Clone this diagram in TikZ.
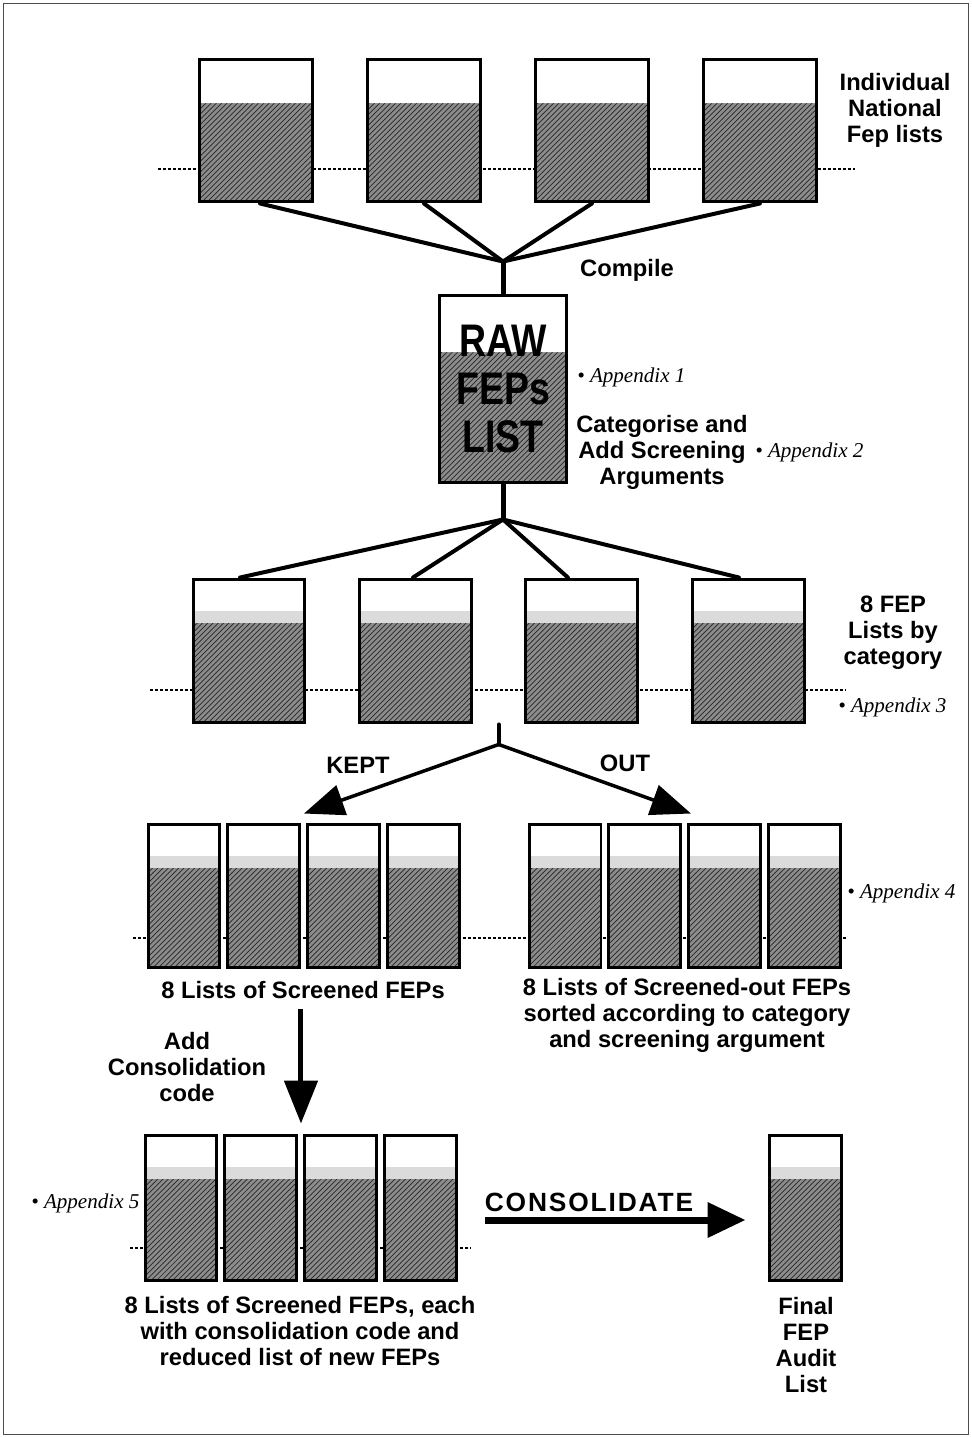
\documentclass[tikz,border=0pt]{standalone}
\usepackage{fontspec}
\setmainfont{Liberation Sans}
\newfontfamily\apxfont{Liberation Serif}
\newfontfamily\rawfont[FakeStretch=0.82]{Liberation Sans}
\usepackage{tikz}
\usetikzlibrary{arrows.meta, positioning, calc, patterns}

\def\toph{0.88cm}
\def\bandh{0cm}
\tikzset{toppart/.code={\def\toph{#1}}, band/.code={\def\bandh{#1}}}
\tikzstyle{fepbox} = [rectangle, draw=black, line width=0.06cm, inner sep=0pt, fill=black!45, minimum width=2.26cm, minimum height=2.86cm, path picture={
    \fill[pattern=north east lines, pattern color=black!85] (path picture bounding box.south west) rectangle (path picture bounding box.north east);
    \fill[white] (path picture bounding box.north west) rectangle ([yshift=-\toph]path picture bounding box.north east);
    \fill[black!14] ([yshift=-\toph]path picture bounding box.north west) rectangle ([yshift=-\toph+\bandh]path picture bounding box.north east);
  }]
\tikzstyle{slimbox} = [fepbox, band=0.24cm, minimum width=1.44cm, minimum height=2.88cm]
\tikzstyle{lbl} = [font=\bfseries\fontsize{13.5}{14.8}\selectfont, align=center, inner sep=0pt]
\tikzstyle{apx} = [font=\apxfont\itshape\fontsize{12}{14}\selectfont, inner sep=0pt, anchor=west]
\tikzstyle{conn} = [draw, line width=0.08cm, line cap=round]
\tikzstyle{arr} = [draw, line width=0.07cm, -{Triangle[length=0.8cm, width=0.62cm]}]
\tikzstyle{fatarr} = [draw, line width=0.14cm, -{Triangle[length=0.76cm, width=0.68cm]}]
\tikzstyle{dotline} = [draw, line width=0.03cm, dash pattern=on 0.06cm off 0.04cm]

\begin{document}
\begin{tikzpicture}[x=0.02cm, y=-0.02cm]
    \useasboundingbox (0,0) rectangle (972,1437);
    \draw[black!70, line width=0.02cm] (3,3) rectangle (968,1434);

    % Dotted guide lines
    \path[dotline] (158,169) -- (855,169);
    \path[dotline] (150,690) -- (846,690);
    \path[dotline] (133,938) -- (847,938);
    \path[dotline] (130,1248) -- (470,1248);

    % Nodes
    \node[fepbox] (nat1) at (256,130.5) {};
    \node[fepbox, right of=nat1, node distance=3.36cm] (nat2) {};
    \node[fepbox, right of=nat2, node distance=3.36cm] (nat3) {};
    \node[fepbox, right of=nat3, node distance=3.36cm] (nat4) {};

    \node[fepbox, toppart=1.14cm, minimum width=2.56cm, minimum height=3.76cm, font=\rawfont\bfseries\fontsize{26}{27.3}\selectfont, align=center] (raw) at (503,389) {RAW\\FEPs\\LIST};

    \node[fepbox, band=0.24cm, minimum width=2.24cm, minimum height=2.88cm] (cat1) at (249,651) {};
    \node[fepbox, band=0.24cm, minimum width=2.24cm, minimum height=2.88cm, right of=cat1, node distance=3.33cm] (cat2) {};
    \node[fepbox, band=0.24cm, minimum width=2.24cm, minimum height=2.88cm, right of=cat2, node distance=3.33cm] (cat3) {};
    \node[fepbox, band=0.24cm, minimum width=2.24cm, minimum height=2.88cm, right of=cat3, node distance=3.33cm] (cat4) {};

    \node[slimbox] (kep1) at (184,896) {};
    \node[slimbox, right of=kep1, node distance=1.6cm] (kep2) {};
    \node[slimbox, right of=kep2, node distance=1.6cm] (kep3) {};
    \node[slimbox, right of=kep3, node distance=1.6cm] (kep4) {};

    \node[slimbox] (out1) at (565,896) {};
    \node[slimbox, right of=out1, node distance=1.6cm] (out2) {};
    \node[slimbox, right of=out2, node distance=1.6cm] (out3) {};
    \node[slimbox, right of=out3, node distance=1.6cm] (out4) {};

    \node[slimbox, minimum height=2.9cm] (con1) at (181,1207.5) {};
    \node[slimbox, minimum height=2.9cm, right of=con1, node distance=1.6cm] (con2) {};
    \node[slimbox, minimum height=2.9cm, right of=con2, node distance=1.6cm] (con3) {};
    \node[slimbox, minimum height=2.9cm, right of=con3, node distance=1.6cm] (con4) {};

    \node[slimbox, minimum height=2.9cm] (final) at (805,1207.5) {};

    % Labels
    \node[lbl] (natlbl) at (895,110) {Individual\\National\\Fep lists};
    \node[lbl] (compile) at (627,270) {Compile};
    \node[apx] (apx1) at (577,377) {• Appendix 1};
    \node[lbl] (catg) at (662,452) {Categorise and\\Add Screening\\Arguments};
    \node[apx] (apx2) at (755,452) {• Appendix 2};
    \node[lbl] (bycat) at (893,633) {8 FEP\\Lists by\\category};
    \node[apx] (apx3) at (838,707) {• Appendix 3};
    \node[lbl] (kept) at (358,765) {KEPT};
    \node[lbl] (outlbl) at (625,763) {OUT};
    \node[apx] (apx4) at (847,893) {• Appendix 4};
    \node[lbl] (scrtxt) at (303,990) {8 Lists of Screened FEPs};
    \node[lbl] (outtxt) at (687,1015) {8 Lists of Screened-out FEPs\\sorted according to category\\and screening argument};
    \node[lbl] (addc) at (187,1067) {Add\\Consolidation\\code};
    \node[apx] (apx5) at (31,1203) {• Appendix 5};
    \node[lbl, font=\bfseries\fontsize{15}{18}\selectfont\addfontfeatures{LetterSpace=7}] (consol) at (589,1202) {CONSOLIDATE};
    \node[lbl] (redtxt) at (300,1331) {8 Lists of Screened FEPs, each\\with consolidation code and\\reduced list of new FEPs};
    \node[lbl] (fintxt) at (806,1345) {Final\\FEP\\Audit\\List};

    % Edges
    \coordinate (join1) at ([yshift=0.64cm]raw.north);
    \draw[conn] ([xshift=0.08cm]nat1.south) -- (join1);
    \draw[conn] (nat2.south) -- (join1);
    \draw[conn] (nat3.south) -- (join1);
    \draw[conn] (nat4.south) -- (join1);
    \draw[conn, line width=0.1cm] (join1) -- (raw.north);

    \coordinate (join2) at ([yshift=-0.7cm]raw.south);
    \draw[conn, line width=0.1cm] (raw.south) -- (join2);
    \draw[conn] (join2) -- ([xshift=-0.18cm]cat1.north);
    \draw[conn] (join2) -- ([xshift=-0.05cm]cat2.north);
    \draw[conn] (join2) -- ([xshift=-0.28cm]cat3.north);
    \draw[conn] (join2) -- ([xshift=-0.19cm]cat4.north);

    \coordinate (stub) at ($(cat2.south east)!0.5!(cat3.south west)$);
    \coordinate (split) at ([yshift=-0.4cm]stub);
    \draw[conn] (stub) -- (split);
    \draw[arr] (split) -- ([yshift=0.18cm]$(kep2.north east)!0.5!(kep3.north west)$);
    \draw[arr] (split) -- ([yshift=0.18cm,xshift=0.12cm]$(out2.north east)!0.5!(out3.north west)$);

    \coordinate (gap) at ($(con2.north east)!0.5!(con3.north west)$);
    \draw[arr, line width=0.1cm, -{Triangle[length=0.86cm, width=0.66cm]}, shorten <=0.2cm] (gap |- scrtxt.south) -- ([yshift=0.2cm]gap);
    \draw[fatarr, shorten <=0.54cm, shorten >=0.44cm] ([yshift=-0.25cm]con4.east) -- ([yshift=-0.25cm]final.west);
\end{tikzpicture}
\end{document}
